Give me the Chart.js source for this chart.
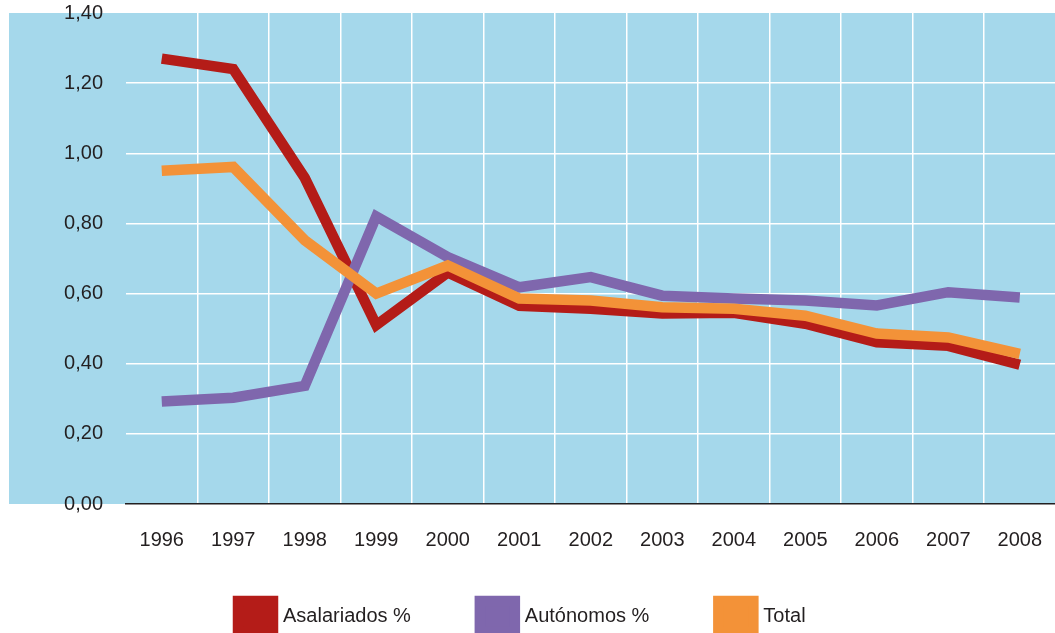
<!DOCTYPE html>
<html>
<head>
<meta charset="utf-8">
<script src="https://cdn.jsdelivr.net/npm/chart.js@4"></script>
<style>
  html, body { margin: 0; padding: 0; overflow: hidden; background: #fff; }
  #wrap { width: 1066px; height: 633px; }
</style>
</head>
<body>
<div id="wrap"><canvas id="lineChart" width="1066" height="633"></canvas></div>
<script>
const years = ['1996', '1997', '1998', '1999', '2000', '2001', '2002', '2003', '2004', '2005', '2006', '2007', '2008'];
const asalariados = [1.27, 1.24, 0.93, 0.51, 0.66, 0.565, 0.557, 0.543, 0.545, 0.514, 0.461, 0.451, 0.397];
const autonomos = [0.292, 0.303, 0.337, 0.82, 0.704, 0.618, 0.647, 0.594, 0.586, 0.58, 0.566, 0.604, 0.589];
const total = [0.95, 0.961, 0.752, 0.60, 0.68, 0.586, 0.58, 0.561, 0.557, 0.537, 0.486, 0.475, 0.428];
const seriesNames = ['Asalariados %', 'Autónomos %', 'Total'];

const textColor = '#231f20';
const fontSpec = { family: "'Liberation Sans', Arial, Helvetica, sans-serif", size: 20 };

// light blue panel behind the plot, also under the y labels
const panelBackground = {
    id: 'panelBackground',
    beforeDraw(chart) {
        const { ctx, chartArea } = chart;
        ctx.save();
        ctx.fillStyle = '#a5d8eb';
        ctx.fillRect(9, chartArea.top, chart.width - 9, chartArea.bottom - chartArea.top);
        ctx.restore();
    }
};

// put the legend where the original has it
const legendPlacement = {
    id: 'legendPlacement',
    afterLayout(chart) {
        const lg = chart.legend;
        const pad = lg.options.labels.padding;
        lg.left = 238 - pad;
        lg.right = chart.width;
        lg.top = 601 - pad;
        lg.bottom = chart.height + 20;
    }
};

new Chart(document.getElementById('lineChart'), {
    type: 'line',
    data: {
        labels: years,
        datasets: [
            { label: seriesNames[0], data: asalariados, borderColor: '#b41c18', backgroundColor: '#b41c18', order: 3 },
            { label: seriesNames[1], data: autonomos, borderColor: '#7f67ad', backgroundColor: '#7f67ad', order: 2 },
            { label: seriesNames[2], data: total, borderColor: '#f39238', backgroundColor: '#f39238', order: 1 }
        ]
    },
    options: {
        responsive: false,
        animation: false,
        devicePixelRatio: 1,
        layout: { padding: { top: 13, left: 0, right: 0, bottom: 5 } },
        elements: {
            line: { borderWidth: 10.5, tension: 0, borderJoinStyle: 'miter', borderCapStyle: 'butt', fill: false },
            point: { radius: 0, hoverRadius: 0 }
        },
        plugins: {
            tooltip: { enabled: false },
            legend: {
                position: 'bottom',
                align: 'start',
                maxHeight: 52,
                labels: {
                    boxWidth: 35,
                    boxHeight: 31,
                    padding: 69,
                    color: textColor,
                    font: fontSpec,
                    sort: (a, b) => a.datasetIndex - b.datasetIndex
                }
            }
        },
        scales: {
            x: {
                offset: true,
                grid: {
                    offset: true,
                    drawTicks: false,
                    lineWidth: 1.5,
                    color: (c) => c.index === 0 ? 'rgba(0,0,0,0)' : '#ffffff'
                },
                border: { display: true, color: textColor, width: 1.5 },
                ticks: { color: textColor, font: fontSpec, padding: 24, maxRotation: 0, autoSkip: false }
            },
            y: {
                min: 0,
                max: 1.4,
                afterFit: (scale) => {
                    scale.width = 126;
                    scale.paddingTop = 0;
                    scale.paddingBottom = 0;
                },
                grid: {
                    drawTicks: false,
                    lineWidth: 1.5,
                    color: (c) => (c.index === 0 || c.index === 7) ? 'rgba(0,0,0,0)' : '#ffffff'
                },
                border: { display: false },
                ticks: {
                    stepSize: 0.2,
                    color: textColor,
                    font: fontSpec,
                    padding: 23,
                    callback: (v) => Number(v).toFixed(2).replace('.', ',')
                }
            }
        }
    },
    plugins: [panelBackground, legendPlacement]
});
</script>
</body>
</html>
